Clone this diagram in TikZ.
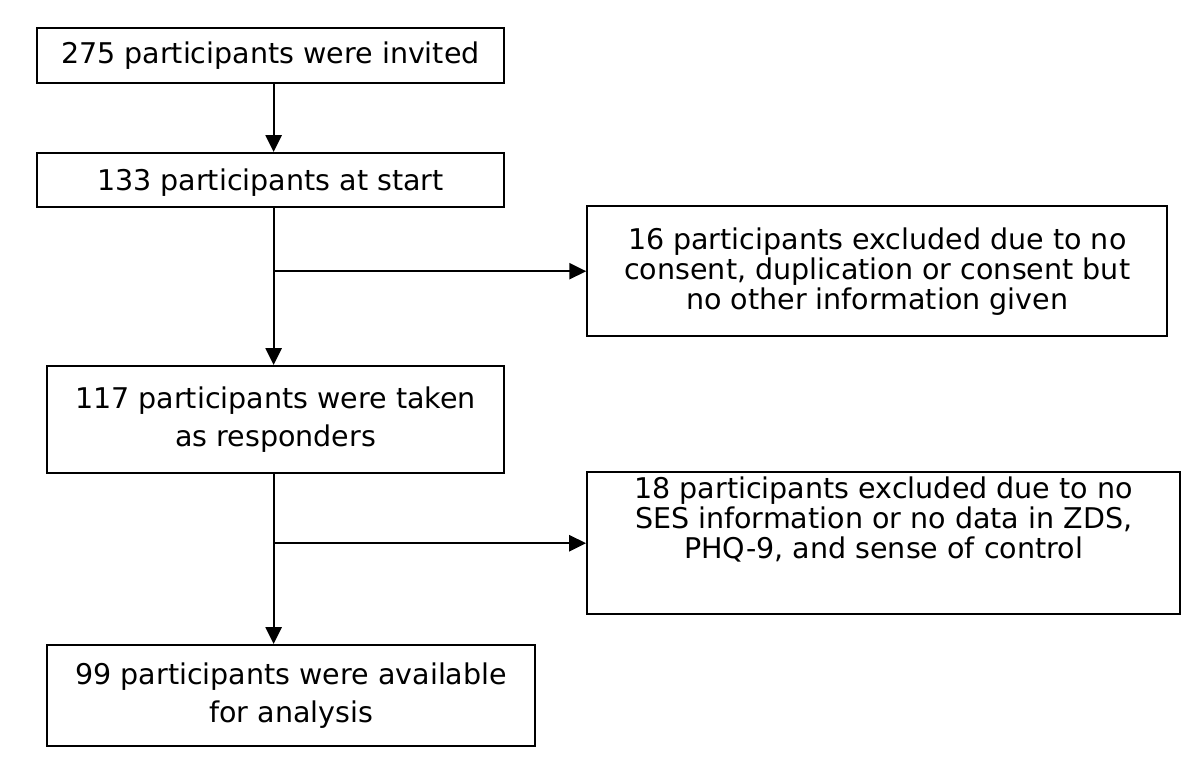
\documentclass[tikz,border=0pt]{standalone}
\usepackage{fontspec}
\setmainfont{DejaVu Sans}
\usetikzlibrary{arrows.meta}

\begin{document}
\begin{tikzpicture}[
stage/.style={rectangle, draw=black, line width=1.4pt, align=center, inner sep=0pt, font={\fontsize{20.3}{27}\selectfont}},
excl/.style={rectangle, draw=black, line width=1.4pt, align=center, inner sep=0pt, font={\fontsize{20.3}{21.3}\selectfont}},
arr/.style={line width=1.4pt, -{Triangle[length=12pt, width=11.5pt]}},
]
\useasboundingbox (0,0) rectangle (30,-19.35);

\coordinate (trunk) at (6.84,0);

\node (invited) [stage, minimum width=11.68cm, minimum height=1.375cm] at (6.76,-1.39) {275 participants were invited};
\node (start) [stage, minimum width=11.68cm, minimum height=1.35cm, text depth=0pt] at (6.76,-4.5) {133 participants at start};
\node (excl1) [excl, minimum width=14.5cm, minimum height=3.25cm] at (21.93,-6.78) {16 participants excluded due to no\\consent, duplication or consent but\\no other information given};
\node (resp) [stage, minimum width=11.43cm, minimum height=2.68cm] at (6.89,-10.49) {117 participants were taken\\as responders};
\node (excl2) [excl, minimum width=14.83cm, minimum height=3.55cm, text depth=36pt] at (22.09,-13.58) {18 participants excluded due to no\\SES information or no data in ZDS,\\PHQ-9, and sense of control};
\node (avail) [stage, minimum width=12.2cm, minimum height=2.53cm] at (7.28,-17.39) {99 participants were available\\for analysis};

\draw[arr] (invited.south -| trunk) -- (start.north -| trunk);
\draw[arr] (start.south -| trunk) -- (resp.north -| trunk);
\draw[arr] (excl1.west -| trunk) -- (excl1.west);
\draw[arr] (resp.south -| trunk) -- (avail.north -| trunk);
\draw[arr] (excl2.west -| trunk) -- (excl2.west);

\end{tikzpicture}
\end{document}
